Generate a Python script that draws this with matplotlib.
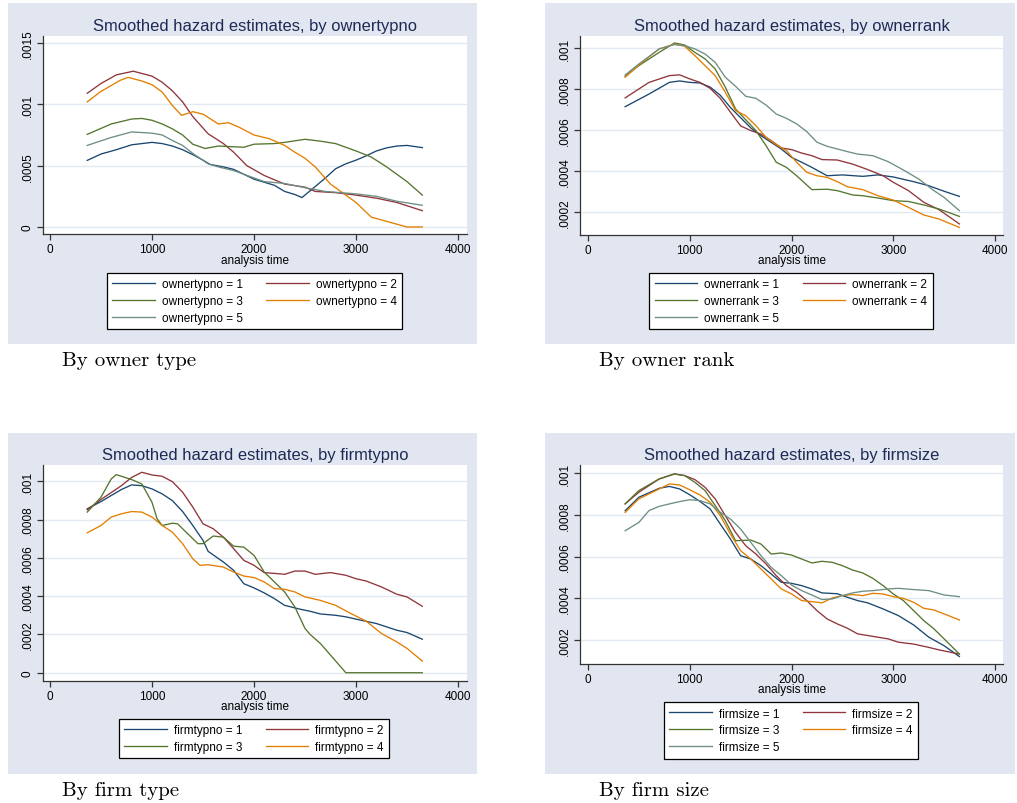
import matplotlib
matplotlib.use("Agg")
import matplotlib.pyplot as plt
from matplotlib.patches import Rectangle

# hazard values, (analysis time, hazard in units of 1e-4)
ownertyp_1 = [(365, 5.43), (500, 5.95), (650, 6.3), (800, 6.7), (1000, 6.9), (1100, 6.8),
              (1200, 6.6), (1300, 6.3), (1400, 5.9), (1500, 5.45), (1570, 5.1), (1700, 4.9),
              (1800, 4.7), (1900, 4.3), (2000, 3.9), (2100, 3.65), (2200, 3.4), (2300, 2.9),
              (2400, 2.65), (2470, 2.4), (2600, 3.3), (2700, 4.0), (2800, 4.75), (2900, 5.15),
              (3000, 5.45), (3100, 5.8), (3200, 6.2), (3300, 6.45), (3400, 6.6), (3500, 6.65),
              (3650, 6.47)]
ownertyp_2 = [(365, 10.9), (500, 11.7), (650, 12.4), (816, 12.7), (1000, 12.3), (1100, 11.8),
              (1200, 11.1), (1300, 10.2), (1400, 9.0), (1550, 7.6), (1700, 6.8), (1800, 6.1),
              (1930, 5.0), (2100, 4.2), (2300, 3.5), (2500, 3.25), (2600, 2.9), (2800, 2.8),
              (3000, 2.6), (3200, 2.35), (3400, 2.0), (3650, 1.33)]
ownertyp_3 = [(365, 7.55), (600, 8.4), (800, 8.8), (900, 8.85), (1000, 8.7), (1100, 8.4),
              (1200, 8.0), (1300, 7.5), (1400, 6.75), (1520, 6.4), (1650, 6.6), (1900, 6.5),
              (2000, 6.75), (2200, 6.8), (2300, 6.9), (2500, 7.15), (2650, 7.0), (2800, 6.8),
              (3000, 6.2), (3150, 5.7), (3300, 4.9), (3500, 3.7), (3650, 2.6)]
ownertyp_4 = [(365, 10.2), (490, 11.0), (686, 11.95), (767, 12.2), (900, 11.9), (1000, 11.6),
              (1100, 11.0), (1200, 9.9), (1290, 9.1), (1400, 9.4), (1500, 9.2), (1650, 8.4),
              (1750, 8.5), (1850, 8.15), (2000, 7.5), (2150, 7.2), (2300, 6.65), (2400, 6.1),
              (2500, 5.6), (2600, 4.9), (2750, 3.5), (2850, 2.9), (3000, 2.0), (3150, 0.8),
              (3300, 0.46), (3500, 0.0), (3650, 0.0)]
ownertyp_5 = [(365, 6.65), (600, 7.3), (800, 7.75), (1000, 7.65), (1100, 7.5), (1200, 7.05),
              (1300, 6.65), (1400, 6.0), (1550, 5.15), (1650, 4.9), (1800, 4.6), (1950, 4.15),
              (2100, 3.7), (2300, 3.55), (2500, 3.2), (2700, 2.9), (3000, 2.7), (3200, 2.5),
              (3400, 2.1), (3650, 1.77)]

ownerrank_1 = [(365, 7.14), (600, 7.76), (800, 8.33), (900, 8.4), (1000, 8.33), (1100, 8.3),
               (1200, 8.1), (1300, 7.7), (1400, 7.1), (1500, 6.6), (1600, 6.1), (1700, 5.72),
               (1900, 5.07), (2000, 4.66), (2100, 4.42), (2200, 4.17), (2350, 3.76), (2500, 3.8),
               (2700, 3.73), (2850, 3.8), (3000, 3.7), (3200, 3.47), (3350, 3.27), (3500, 3.0),
               (3650, 2.75)]
ownerrank_2 = [(365, 7.57), (600, 8.33), (800, 8.66), (900, 8.7), (1000, 8.5), (1100, 8.33),
               (1200, 8.04), (1300, 7.55), (1400, 6.87), (1500, 6.2), (1600, 5.97), (1700, 5.8),
               (1800, 5.48), (1900, 5.12), (2000, 5.04), (2100, 4.87), (2200, 4.74), (2300, 4.55),
               (2450, 4.53), (2600, 4.33), (2750, 4.06), (2900, 3.76), (3000, 3.44), (3150, 3.03),
               (3300, 2.46), (3450, 2.1), (3650, 1.4)]
ownerrank_3 = [(365, 8.63), (500, 9.15), (700, 9.8), (850, 10.26), (950, 10.16), (1050, 9.8),
               (1150, 9.48), (1250, 8.99), (1350, 8.09), (1450, 7.03), (1550, 6.5), (1650, 5.97),
               (1750, 5.23), (1850, 4.42), (1950, 4.17), (2050, 3.76), (2200, 3.08), (2350, 3.1),
               (2450, 3.03), (2600, 2.82), (2700, 2.78), (2850, 2.67), (3000, 2.54), (3150, 2.5),
               (3300, 2.33), (3450, 2.13), (3650, 1.77)]
ownerrank_4 = [(365, 8.58), (500, 9.18), (700, 9.97), (850, 10.2), (950, 10.1), (1050, 9.64),
               (1150, 9.15), (1250, 8.66), (1350, 7.84), (1450, 6.95), (1550, 6.7), (1650, 6.21),
               (1750, 5.64), (1850, 5.28), (1950, 4.99), (2050, 4.42), (2150, 3.93), (2250, 3.76),
               (2350, 3.68), (2450, 3.47), (2550, 3.22), (2700, 3.08), (2850, 2.78), (3000, 2.57),
               (3150, 2.21), (3300, 1.84), (3450, 1.64), (3650, 1.23)]
ownerrank_5 = [(365, 8.69), (500, 9.23), (700, 9.97), (850, 10.18), (950, 10.13), (1050, 9.97),
               (1150, 9.72), (1250, 9.31), (1350, 8.58), (1450, 8.14), (1550, 7.65), (1650, 7.55),
               (1750, 7.22), (1850, 6.78), (1950, 6.57), (2050, 6.3), (2150, 5.92), (2250, 5.4),
               (2350, 5.2), (2450, 5.07), (2550, 4.94), (2650, 4.82), (2800, 4.74), (2950, 4.45),
               (3100, 4.04), (3250, 3.6), (3400, 3.03), (3500, 2.7), (3650, 2.05)]

firmtyp_1 = [(365, 8.56), (500, 8.94), (700, 9.57), (800, 9.81), (900, 9.77), (1000, 9.6),
             (1100, 9.34), (1200, 8.99), (1300, 8.42), (1400, 7.69), (1500, 6.91), (1550, 6.34),
             (1700, 5.78), (1800, 5.35), (1900, 4.65), (2000, 4.43), (2100, 4.17), (2200, 3.87),
             (2300, 3.52), (2450, 3.32), (2550, 3.21), (2650, 3.07), (2800, 3.0), (2900, 2.92),
             (3050, 2.74), (3200, 2.57), (3400, 2.22), (3500, 2.1), (3650, 1.75)]
firmtyp_2 = [(365, 8.51), (500, 9.05), (700, 9.77), (800, 10.2), (900, 10.47), (1000, 10.33),
             (1100, 10.26), (1200, 9.98), (1300, 9.43), (1400, 8.65), (1500, 7.78), (1600, 7.52),
             (1700, 7.08), (1800, 6.48), (1900, 5.87), (2000, 5.61), (2100, 5.23), (2200, 5.19),
             (2300, 5.14), (2400, 5.31), (2500, 5.31), (2600, 5.14), (2750, 5.23), (2900, 5.09),
             (3000, 4.91), (3100, 4.79), (3250, 4.48), (3400, 4.1), (3500, 3.96), (3650, 3.47)]
firmtyp_3 = [(365, 8.39), (500, 9.17), (600, 10.12), (650, 10.35), (700, 10.26), (800, 10.09),
             (900, 9.86), (1000, 8.9), (1050, 8.04), (1100, 7.69), (1200, 7.81), (1250, 7.78),
             (1350, 7.26), (1450, 6.74), (1500, 6.74), (1600, 7.14), (1700, 7.08), (1800, 6.61),
             (1900, 6.56), (2000, 6.13), (2100, 5.26), (2200, 4.74), (2300, 4.22), (2400, 3.44),
             (2500, 2.31), (2550, 2.0), (2650, 1.53), (2750, 0.92), (2900, 0.0), (3650, 0.0)]
firmtyp_4 = [(365, 7.31), (500, 7.69), (600, 8.13), (700, 8.3), (800, 8.42), (900, 8.39),
             (1000, 8.13), (1100, 7.69), (1200, 7.34), (1300, 6.74), (1400, 5.95), (1470, 5.61),
             (1550, 5.64), (1700, 5.52), (1800, 5.26), (1900, 5.05), (2000, 4.97), (2100, 4.74),
             (2200, 4.39), (2300, 4.36), (2400, 4.22), (2500, 3.96), (2650, 3.78), (2800, 3.52),
             (2950, 3.09), (3100, 2.69), (3250, 2.05), (3400, 1.61), (3500, 1.27), (3650, 0.61)]

firmsize_1 = [(365, 8.2), (500, 8.85), (700, 9.28), (800, 9.37), (900, 9.25), (1000, 8.97),
              (1100, 8.65), (1200, 8.29), (1300, 7.56), (1400, 6.84), (1500, 6.04), (1600, 5.88),
              (1700, 5.56), (1800, 5.16), (1900, 4.76), (2000, 4.71), (2100, 4.6), (2200, 4.44),
              (2300, 4.25), (2450, 4.21), (2550, 4.04), (2650, 3.88), (2750, 3.77), (2900, 3.48),
              (3050, 3.16), (3200, 2.71), (3350, 2.12), (3500, 1.71), (3650, 1.19)]
firmsize_2 = [(365, 8.53), (500, 9.09), (700, 9.73), (850, 9.97), (950, 9.89), (1050, 9.7),
              (1150, 9.33), (1250, 8.77), (1350, 7.96), (1450, 7.16), (1550, 6.52), (1650, 6.12),
              (1750, 5.64), (1850, 5.08), (1950, 4.6), (2050, 4.28), (2150, 3.88), (2250, 3.4),
              (2350, 3.0), (2450, 2.76), (2550, 2.55), (2650, 2.28), (2800, 2.16), (2950, 2.04),
              (3050, 1.88), (3200, 1.79), (3350, 1.63), (3450, 1.51), (3650, 1.31)]
firmsize_3 = [(365, 8.53), (500, 9.17), (700, 9.73), (850, 9.97), (950, 9.89), (1050, 9.57),
              (1150, 9.17), (1250, 8.45), (1350, 7.72), (1450, 6.76), (1600, 6.79), (1700, 6.6),
              (1800, 6.12), (1900, 6.17), (2000, 6.07), (2100, 5.88), (2200, 5.69), (2300, 5.77),
              (2400, 5.72), (2500, 5.56), (2600, 5.35), (2700, 5.21), (2800, 4.95), (2900, 4.6),
              (3000, 4.2), (3100, 3.88), (3200, 3.4), (3300, 2.92), (3400, 2.52), (3500, 2.04),
              (3650, 1.31)]
firmsize_4 = [(365, 8.12), (500, 8.77), (700, 9.25), (800, 9.49), (900, 9.44), (1000, 9.21),
              (1100, 8.96), (1200, 8.61), (1300, 7.96), (1400, 7.08), (1500, 6.28), (1600, 5.88),
              (1700, 5.4), (1800, 4.92), (1900, 4.44), (2000, 4.2), (2100, 3.88), (2200, 3.83),
              (2300, 3.77), (2400, 4.01), (2500, 4.12), (2600, 4.17), (2700, 4.12), (2800, 4.23),
              (2900, 4.2), (3000, 4.07), (3100, 3.99), (3200, 3.8), (3300, 3.51), (3400, 3.43),
              (3500, 3.24), (3650, 2.95)]
firmsize_5 = [(365, 7.24), (500, 7.64), (600, 8.21), (700, 8.41), (800, 8.53), (900, 8.64),
              (1000, 8.73), (1100, 8.69), (1200, 8.53), (1300, 8.13), (1400, 7.8), (1500, 7.32),
              (1600, 6.68), (1700, 6.04), (1800, 5.48), (1900, 5.08), (2000, 4.63), (2100, 4.36),
              (2200, 4.15), (2300, 3.93), (2400, 3.96), (2500, 4.12), (2600, 4.25), (2700, 4.33),
              (2800, 4.36), (2950, 4.44), (3050, 4.47), (3200, 4.41), (3350, 4.36), (3500, 4.15),
              (3650, 4.07)]

xticks = [0, 1000, 2000, 3000, 4000]
yticks_ownertyp = [0, 0.0005, 0.001, 0.0015]
ylabels_ownertyp = ["0", ".0005", ".001", ".0015"]
yticks_rank = [0.0002, 0.0004, 0.0006, 0.0008, 0.001]
ylabels_rank = [".0002", ".0004", ".0006", ".0008", ".001"]
yticks_firmtyp = [0, 0.0002, 0.0004, 0.0006, 0.0008, 0.001]
ylabels_firmtyp = ["0", ".0002", ".0004", ".0006", ".0008", ".001"]

colors = ["#1a476f", "#90353b", "#55752f", "#e37e00", "#6e8e84"]
BG = "#e2e6f0"
GRID = "#e3e9f0"
TITLE_C = "#1c2a55"

W, H = 1017, 804
fig = plt.figure(figsize=(W / 100, H / 100), dpi=100)
fig.patch.set_facecolor("white")


def fbox(x0, y0, x1, y1):
    # pixel box (top-left origin) -> figure fraction [left, bottom, w, h]
    return [x0 / W, 1 - y1 / H, (x1 - x0) / W, (y1 - y0) / H]


def panel(bg, axbox, xlim, ylim, yt, yl, var, series, leg, lab_y, caption, cap_xy):
    b = fbox(*bg)
    fig.patches.append(Rectangle((b[0], b[1]), b[2], b[3], transform=fig.transFigure,
                                 facecolor=BG, edgecolor="none", zorder=-10))
    ax = fig.add_axes(fbox(*axbox))
    ax.set_facecolor("white")
    handles = []
    for i, s in enumerate(series):
        t = [p[0] for p in s]
        h = [p[1] * 1e-4 for p in s]
        ln, = ax.plot(t, h, color=colors[i], lw=0.95, label=f"{var} = {i + 1}",
                      solid_joinstyle="round")
        handles.append(ln)
    ax.set_xlim(*xlim)
    ax.set_ylim(*ylim)
    ax.set_xticks(xticks)
    ax.set_xticklabels([str(v) for v in xticks])
    ax.set_yticks(yt)
    ax.set_yticklabels(yl, rotation=90, va="center")
    for s in ["top", "right"]:
        ax.spines[s].set_visible(False)
    for s in ["left", "bottom"]:
        ax.spines[s].set_color("#333333")
        ax.spines[s].set_linewidth(0.9)
    ax.tick_params(direction="out", length=4, width=0.9, color="#333333",
                   labelsize=8.5, pad=2.5)
    ax.yaxis.grid(True, color=GRID, lw=1.0)
    ax.set_axisbelow(True)
    for lbl in ax.get_xticklabels() + ax.get_yticklabels():
        lbl.set_fontfamily("Liberation Sans")

    # title centred over the plot region, axis label
    axc = (axbox[0] + axbox[2]) / 2
    fig.text(axc / W, 1 - (bg[1] + 22) / H, f"Smoothed hazard estimates, by {var}",
             ha="center", va="center", fontsize=11.9, color=TITLE_C, family="Liberation Sans")
    fig.text(axc / W, 1 - lab_y / H, "analysis time", ha="center", va="center",
             fontsize=8.5, family="Liberation Sans")

    # legend filled row by row like Stata
    n = len(handles)
    order = [0, 2, 4, 1, 3] if n == 5 else [0, 2, 1, 3]
    lb = fbox(*leg)
    lg = ax.legend([handles[k] for k in order], [handles[k].get_label() for k in order],
                   ncol=2, loc="center", bbox_to_anchor=(lb[0] + lb[2] / 2, lb[1] + lb[3] / 2),
                   bbox_transform=fig.transFigure, frameon=True, fancybox=False,
                   edgecolor="black", facecolor="white", framealpha=1,
                   prop={"family": "Liberation Sans", "size": 8.5},
                   handlelength=3.6, handletextpad=0.6, columnspacing=2.0,
                   labelspacing=0.42, borderpad=0.45, borderaxespad=0)
    lg.get_frame().set_linewidth(0.9)

    fig.text(cap_xy[0] / W, 1 - cap_xy[1] / H, caption, ha="left", va="center",
             fontsize=15, family="cmr10")
    return ax


panel((8, 4, 477, 345), (43, 37, 467, 235), (-68.6, 4088), (-5.7e-5, 0.001557),
      yticks_ownertyp, ylabels_ownertyp, "ownertypno",
      [ownertyp_1, ownertyp_2, ownertyp_3, ownertyp_4, ownertyp_5],
      (106, 274, 403, 330), 261, "By owner type", (62, 361))

panel((545, 4, 1015, 345), (580, 37, 1003, 236), (-78.6, 4078.6), (0.0000859, 0.00106),
      yticks_rank, ylabels_rank, "ownerrank",
      [ownerrank_1, ownerrank_2, ownerrank_3, ownerrank_4, ownerrank_5],
      (649, 274, 933, 330), 261, "By owner rank", (599, 361))

panel((8, 434, 477, 775), (43, 466, 467, 682), (-68.6, 4088), (-0.0000432, 0.001085),
      yticks_firmtyp, ylabels_firmtyp, "firmtypno",
      [firmtyp_1, firmtyp_2, firmtyp_3, firmtyp_4],
      (118, 720, 390, 759), 707, "By firm type", (62, 791))

panel((545, 434, 1015, 775), (580, 466, 1003, 665), (-78.6, 4078.6), (0.0000832, 0.00104),
      yticks_rank, ylabels_rank, "firmsize",
      [firmsize_1, firmsize_2, firmsize_3, firmsize_4, firmsize_5],
      (663, 704, 919, 759), 690, "By firm size", (599, 791))

fig.savefig("out.png", dpi=100, facecolor="white")
